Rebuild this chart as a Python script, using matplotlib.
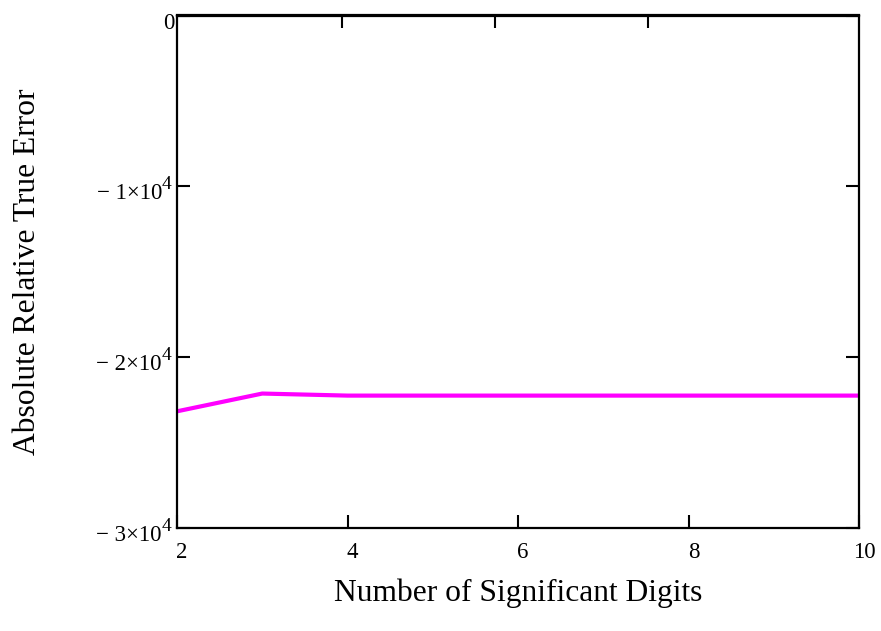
import matplotlib
matplotlib.use("Agg")
import matplotlib.pyplot as plt
import matplotlib.transforms as mtrans

# data
digits = [2, 3, 4, 5, 6, 7, 8, 9, 10]
error = [-23170, -22130, -22250, -22250, -22250, -22250, -22250, -22250, -22250]

x_ticks = [2, 4, 6, 8, 10]
y_ticks = [-30000, -20000, -10000, 0]
top_ticks = [3.94, 5.73, 7.52]

plt.rcParams['font.family'] = ['Liberation Serif', 'DejaVu Serif']

fig = plt.figure(figsize=(8.81, 6.31), dpi=100)
ax = fig.add_axes([177 / 881, 103 / 631, 682 / 881, 512.5 / 631])

ax.plot(digits, error, color='#ff00ff', lw=3, solid_capstyle='butt')

ax.set_xlim(2, 10)
ax.set_ylim(-30000, 0)
ax.set_xticks(x_ticks)
ax.set_yticks(y_ticks)
ax.set_yticklabels([])

ax.tick_params(direction='in', length=9.5, width=1.5, labelsize=16.5, colors='black')
ax.yaxis.set_ticks_position('both')
ax.tick_params(axis='x', pad=10)

# x tick labels sit a bit right of their ticks, like the original
xoff = mtrans.ScaledTranslation(5 / 100, 0, fig.dpi_scale_trans)
for lab in ax.get_xticklabels():
    lab.set_transform(lab.get_transform() + xoff)

# y tick labels in the Mathcad style: "− 1×10" with a big exponent
trans = mtrans.blended_transform_factory(ax.transAxes, ax.transData)
for v in y_ticks:
    if v == 0:
        t = trans + mtrans.ScaledTranslation(-2 / 100, -13.5 / 100, fig.dpi_scale_trans)
        ax.text(0, v, '0', transform=t, ha='right', va='baseline', fontsize=16.5)
        continue
    mant = abs(v) // 10000
    t = trans + mtrans.ScaledTranslation(-15 / 100, -13 / 100, fig.dpi_scale_trans)
    ax.text(0, v, '\u2212 %d\u00d710' % mant, transform=t, ha='right', va='baseline',
            fontsize=16.5)
    t2 = trans + mtrans.ScaledTranslation(-15 / 100, -3 / 100, fig.dpi_scale_trans)
    ax.text(0, v, '4', transform=t2, ha='left', va='baseline', fontsize=14)

# top axis has its own unlabeled ticks
top = ax.secondary_xaxis('top')
top.set_xticks(top_ticks)
top.tick_params(direction='in', length=9.5, width=1.5, labeltop=False)

for sp in ax.spines.values():
    sp.set_linewidth(1.6)
top.spines['top'].set_linewidth(1.6)

ax.set_xlabel('Number of Significant Digits', fontsize=22.7)
ax.set_ylabel('Absolute Relative True Error', fontsize=22.7)
ax.xaxis.set_label_coords(0.5, -0.098)
ax.yaxis.set_label_coords(-0.198, 0.5)

fig.savefig('out.png', dpi=100)
